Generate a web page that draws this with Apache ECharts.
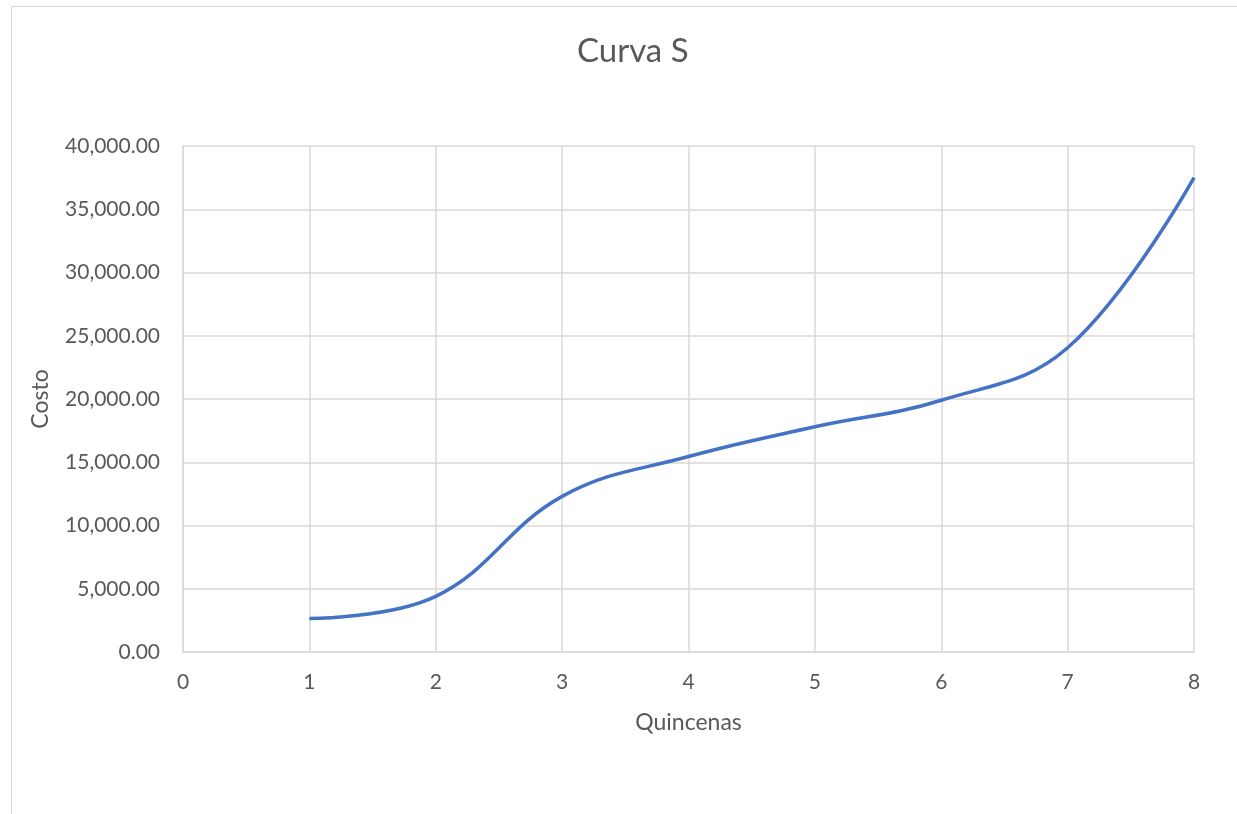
<!DOCTYPE html>
<html>
<head>
<meta charset="utf-8">
<script src="https://cdn.jsdelivr.net/npm/echarts@6/dist/echarts.min.js"></script>
<style>
  html, body { margin: 0; padding: 0; background: #fff; }
  #chart { width: 1237px; height: 814px; }
</style>
</head>
<body>
<div id="chart"></div>
<script>
// datos de la curva S
var quincenas = [1, 2, 3, 4, 5, 6, 7, 8];
var costo = [2650, 4400, 12300, 15450, 17800, 19900, 24050, 37500];

var myChart = echarts.init(document.getElementById('chart'));
var fontName = 'Lato';
var txtColor = '#595959';
var gridColor = '#d9d9d9';

var option = {
  animation: false,
  textStyle: { fontFamily: fontName },
  title: {
    text: 'Curva S',
    left: 572,
    top: 30,
    textStyle: { fontFamily: fontName, fontSize: 33, fontWeight: 'normal', color: txtColor }
  },
  graphic: [{
    type: 'rect',
    shape: { x: 11.5, y: 6.5, width: 1400, height: 1000 },
    style: { fill: 'none', stroke: gridColor, lineWidth: 1 },
    silent: true
  }],
  grid: { left: 183, right: 43, top: 146, bottom: 162 },
  xAxis: {
    type: 'value',
    min: 0,
    max: 8,
    interval: 1,
    name: 'Quincenas',
    nameLocation: 'middle',
    nameGap: 59,
    nameTextStyle: { fontSize: 23, color: txtColor, fontFamily: fontName },
    axisLine: { show: true, lineStyle: { color: gridColor, width: 1.5 } },
    axisTick: { show: false },
    axisLabel: { fontSize: 21, color: txtColor, margin: 20 },
    splitLine: { show: true, lineStyle: { color: gridColor, width: 1.5 } }
  },
  yAxis: {
    type: 'value',
    min: 0,
    max: 40000,
    interval: 5000,
    name: 'Costo',
    nameLocation: 'middle',
    nameGap: 131,
    nameTextStyle: { fontSize: 23, color: txtColor, fontFamily: fontName },
    axisLine: { show: true, lineStyle: { color: gridColor, width: 1.5 } },
    axisTick: { show: false },
    axisLabel: {
      fontSize: 21,
      color: txtColor,
      margin: 23,
      formatter: function (v) {
        return v.toLocaleString('en-US', { minimumFractionDigits: 2, maximumFractionDigits: 2 });
      }
    },
    splitLine: { show: true, lineStyle: { color: gridColor, width: 1.5 } }
  },
  series: [{
    type: 'line',
    data: quincenas.map(function (q, i) { return [q, costo[i]]; }),
    smooth: 0.4,
    symbol: 'none',
    lineStyle: { color: '#4472C4', width: 3.5 }
  }]
};
myChart.setOption(option);
</script>
</body>
</html>
